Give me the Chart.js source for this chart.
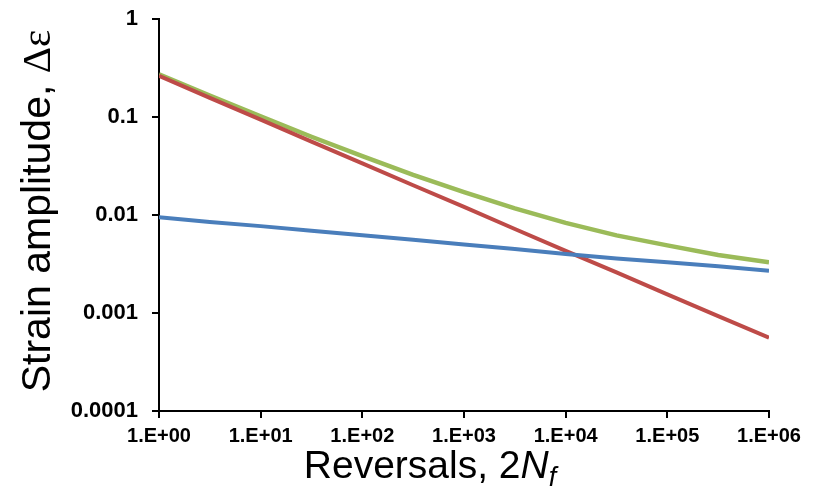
<!DOCTYPE html>
<html>
<head>
<meta charset="utf-8">
<script src="https://cdn.jsdelivr.net/npm/chart.js@4"></script>
<style>
  html, body { margin: 0; padding: 0; background: #fff; }
  #wrap { width: 820px; height: 502px; position: relative; }
</style>
</head>
<body>
<div id="wrap"><canvas id="chart"></canvas></div>
<script>
// reversals (2Nf), decades and half decades
const reversals = [1, 3.16, 10, 31.6, 100, 316, 1000, 3162, 10000, 31623, 100000, 316228, 1000000];
// elastic part (blue)
const elastic = [0.0095, 0.0085, 0.0077, 0.0069, 0.0062, 0.0056, 0.0050, 0.0045, 0.0040, 0.0036, 0.0033, 0.0030, 0.0027];
// plastic part (red)
const plastic = [0.263, 0.157, 0.094, 0.056, 0.0337, 0.0201, 0.0121, 0.0072, 0.0043, 0.0026, 0.00155, 0.00093, 0.00056];
// total (green)
const total = [0.2725, 0.1655, 0.1017, 0.0629, 0.0399, 0.0257, 0.0171, 0.0117, 0.0083, 0.0062, 0.0049, 0.0039, 0.0033];

const xTicks = [1, 10, 100, 1000, 10000, 100000, 1000000];
const xTickLabels = ['1.E+00', '1.E+01', '1.E+02', '1.E+03', '1.E+04', '1.E+05', '1.E+06'];
const yTicks = [0.0001, 0.001, 0.01, 0.1, 1];
const yTickLabels = ['0.0001', '0.001', '0.01', '0.1', '1'];

function pts(vals) {
    return reversals.map((x, i) => ({ x: x, y: vals[i] }));
}

// axis titles with mixed fonts
const titlesPlugin = {
    id: 'titles',
    afterDraw(chart) {
        const ctx = chart.ctx;
        ctx.save();
        ctx.fillStyle = '#000';
        ctx.textBaseline = 'alphabetic';

        // x title: Reversals, 2N_f
        const main = '39px "Liberation Sans", Arial, sans-serif';
        const ital = 'italic 39px "Liberation Sans", Arial, sans-serif';
        const sub = 'italic 27px "Liberation Sans", Arial, sans-serif';
        ctx.font = main;
        const w1 = ctx.measureText('Reversals, 2').width;
        ctx.font = ital;
        const w2 = ctx.measureText('N').width;
        ctx.font = sub;
        const w3 = ctx.measureText('f').width;
        let x = 430 - (w1 + w2 + w3) / 2;
        const y = 478;
        ctx.font = main;
        ctx.textAlign = 'left';
        ctx.fillText('Reversals, 2', x, y);
        x += w1;
        ctx.font = ital;
        ctx.fillText('N', x, y);
        x += w2;
        ctx.font = sub;
        ctx.fillText('f', x, y + 8);

        // y title: Strain amplitude, Δε
        const yt = '41px "Liberation Sans", Arial, sans-serif';
        const greek = '41px "Liberation Serif", "Times New Roman", serif';
        ctx.translate(50, 211);
        ctx.rotate(-Math.PI / 2);
        ctx.font = yt;
        const a = 'Strain amplitude, ';
        const wa = ctx.measureText(a).width;
        ctx.font = greek;
        const wb = ctx.measureText('Δε').width;
        let tx = -(wa + wb) / 2;
        ctx.font = yt;
        ctx.fillText(a, tx, 0);
        ctx.font = greek;
        ctx.fillText('Δε', tx + wa, 0);
        ctx.restore();
    }
};

const ctx = document.getElementById('chart').getContext('2d');
new Chart(ctx, {
    type: 'line',
    data: {
        datasets: [
            { label: 'Elastic', data: pts(elastic), borderColor: '#4A7EBB', borderWidth: 4 },
            { label: 'Plastic', data: pts(plastic), borderColor: '#BE4B48', borderWidth: 4 },
            { label: 'Total', data: pts(total), borderColor: '#9BBB59', borderWidth: 4.5 }
        ]
    },
    options: {
        responsive: true,
        maintainAspectRatio: false,
        animation: false,
        layout: { padding: { top: 19, right: 51, left: 0, bottom: 0 } },
        elements: { point: { radius: 0 }, line: { tension: 0 } },
        plugins: { legend: { display: false }, tooltip: { enabled: false } },
        scales: {
            x: {
                type: 'logarithmic',
                min: 1,
                max: 1000000,
                afterBuildTicks: scale => { scale.ticks = xTicks.map(v => ({ value: v })); },
                afterFit: scale => {
                    scale.height = 91;
                    scale.paddingLeft = 0;
                    scale.paddingRight = 0;
                },
                grid: { drawOnChartArea: false, drawTicks: true, tickLength: 7, color: '#000', lineWidth: 2 },
                border: { display: true, color: '#000', width: 2 },
                ticks: {
                    autoSkip: false,
                    maxRotation: 0,
                    padding: 6,
                    color: '#000',
                    font: { family: '"Liberation Sans", Arial, sans-serif', size: 20, weight: 'bold' },
                    callback: (v) => xTickLabels[xTicks.indexOf(v)]
                }
            },
            y: {
                type: 'logarithmic',
                min: 0.0001,
                max: 1,
                afterBuildTicks: scale => { scale.ticks = yTicks.map(v => ({ value: v })); },
                afterFit: scale => {
                    scale.width = 159;
                    scale.paddingTop = 0;
                    scale.paddingBottom = 0;
                },
                grid: { drawOnChartArea: false, drawTicks: true, tickLength: 7, color: '#000', lineWidth: 2 },
                border: { display: true, color: '#000', width: 2 },
                ticks: {
                    autoSkip: false,
                    padding: 14,
                    color: '#000',
                    font: { family: '"Liberation Sans", Arial, sans-serif', size: 22, weight: 'bold' },
                    callback: (v) => yTickLabels[yTicks.indexOf(v)]
                }
            }
        }
    },
    plugins: [titlesPlugin]
});
</script>
</body>
</html>
